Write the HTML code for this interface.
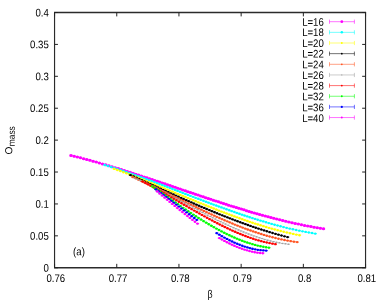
<!DOCTYPE html><html><head><meta charset="utf-8"><style>html,body{margin:0;padding:0;background:#fff}svg{display:block;will-change:transform}text{font-family:"Liberation Sans",sans-serif;fill:#000}</style></head><body>
<svg width="382" height="300" viewBox="0 0 382 300">
<rect width="382" height="300" fill="#fff"/>
<path d="M69.4,155.52h3.2M72.55,156.28h3.2M75.7,157.06h3.2M78.85,157.86h3.2M82,158.68h3.2M85.15,159.51h3.2M88.3,160.36h3.2M91.45,161.22h3.2M94.6,162.1h3.2M97.75,162.99h3.2M100.9,163.89h3.2M104.05,164.81h3.2M107.2,165.75h3.2M110.35,166.69h3.2M113.48,167.64h3.2M116.56,168.58h3.2M119.6,169.52h3.2M122.6,170.46h3.2M125.56,171.4h3.2M128.49,172.33h3.2M131.37,173.25h3.2M134.21,174.17h3.2M137.02,175.08h3.2M139.79,175.99h3.2M142.52,176.89h3.2M145.21,177.78h3.2M147.87,178.66h3.2M150.5,179.54h3.2M153.09,180.4h3.2M155.64,181.26h3.2M158.19,182.12h3.2M160.74,182.98h3.2M163.29,183.84h3.2M165.84,184.7h3.2M168.39,185.57h3.2M170.94,186.44h3.2M173.49,187.3h3.2M176.04,188.17h3.2M178.59,189.04h3.2M181.14,189.9h3.2M183.69,190.77h3.2M186.24,191.63h3.2M188.79,192.5h3.2M191.34,193.36h3.2M193.89,194.22h3.2M196.44,195.08h3.2M198.99,195.94h3.2M201.54,196.79h3.2M204.09,197.64h3.2M206.64,198.49h3.2M209.2,199.34h3.2M211.75,200.18h3.2M214.3,201.01h3.2M216.85,201.85h3.2M219.4,202.68h3.2M221.95,203.5h3.2M224.5,204.32h3.2M227.05,205.13h3.2M229.6,205.94h3.2M232.15,206.74h3.2M234.7,207.53h3.2M237.25,208.32h3.2M239.8,209.1h3.2M242.35,209.87h3.2M244.9,210.64h3.2M247.47,211.41h3.2M250.07,212.17h3.2M252.71,212.94h3.2M255.39,213.71h3.2M258.1,214.47h3.2M260.84,215.24h3.2M263.62,216.01h3.2M266.44,216.77h3.2M269.3,217.54h3.2M272.2,218.29h3.2M275.13,219.05h3.2M278.1,219.8h3.2M281.12,220.54h3.2M284.17,221.28h3.2M287.26,222.01h3.2M290.4,222.73h3.2M293.55,223.43h3.2M296.7,224.11h3.2M299.85,224.77h3.2M303,225.41h3.2M306.15,226.03h3.2M309.3,226.62h3.2M312.45,227.2h3.2M315.6,227.74h3.2M318.75,228.27h3.2M321.9,228.77h3.2" stroke="#ff00ff" stroke-width="2.0" stroke-opacity="0.8" fill="none"/>
<path d="M71,155.52h0M74.15,156.28h0M77.3,157.06h0M80.45,157.86h0M83.6,158.68h0M86.75,159.51h0M89.9,160.36h0M93.05,161.22h0M96.2,162.1h0M99.35,162.99h0M102.5,163.89h0M105.65,164.81h0M108.8,165.75h0M111.95,166.69h0M115.08,167.64h0M118.16,168.58h0M121.2,169.52h0M124.2,170.46h0M127.16,171.4h0M130.09,172.33h0M132.97,173.25h0M135.81,174.17h0M138.62,175.08h0M141.39,175.99h0M144.12,176.89h0M146.81,177.78h0M149.47,178.66h0M152.1,179.54h0M154.69,180.4h0M157.24,181.26h0M159.79,182.12h0M162.34,182.98h0M164.89,183.84h0M167.44,184.7h0M169.99,185.57h0M172.54,186.44h0M175.09,187.3h0M177.64,188.17h0M180.19,189.04h0M182.74,189.9h0M185.29,190.77h0M187.84,191.63h0M190.39,192.5h0M192.94,193.36h0M195.49,194.22h0M198.04,195.08h0M200.59,195.94h0M203.14,196.79h0M205.69,197.64h0M208.24,198.49h0M210.8,199.34h0M213.35,200.18h0M215.9,201.01h0M218.45,201.85h0M221,202.68h0M223.55,203.5h0M226.1,204.32h0M228.65,205.13h0M231.2,205.94h0M233.75,206.74h0M236.3,207.53h0M238.85,208.32h0M241.4,209.1h0M243.95,209.87h0M246.5,210.64h0M249.07,211.41h0M251.67,212.17h0M254.31,212.94h0M256.99,213.71h0M259.7,214.47h0M262.44,215.24h0M265.22,216.01h0M268.04,216.77h0M270.9,217.54h0M273.8,218.29h0M276.73,219.05h0M279.7,219.8h0M282.72,220.54h0M285.77,221.28h0M288.86,222.01h0M292,222.73h0M295.15,223.43h0M298.3,224.11h0M301.45,224.77h0M304.6,225.41h0M307.75,226.03h0M310.9,226.62h0M314.05,227.2h0M317.2,227.74h0M320.35,228.27h0M323.5,228.77h0" stroke="#ff00ff" stroke-width="3.0" stroke-linecap="round" fill="none"/>
<path d="M103.18,164.97h3.2M106.36,165.95h3.2M109.54,166.96h3.2M112.71,167.97h3.2M115.83,169h3.2M118.92,170.02h3.2M121.96,171.04h3.2M124.96,172.07h3.2M127.92,173.09h3.2M130.84,174.11h3.2M133.72,175.13h3.2M136.57,176.15h3.2M139.37,177.16h3.2M142.14,178.16h3.2M144.87,179.16h3.2M147.57,180.15h3.2M150.23,181.14h3.2M152.85,182.12h3.2M155.44,183.09h3.2M158.02,184.05h3.2M160.59,185.03h3.2M163.17,186h3.2M165.74,186.98h3.2M168.32,187.96h3.2M170.89,188.95h3.2M173.47,189.93h3.2M176.04,190.92h3.2M178.62,191.9h3.2M181.19,192.89h3.2M183.77,193.88h3.2M186.35,194.86h3.2M188.92,195.85h3.2M191.5,196.83h3.2M194.07,197.82h3.2M196.65,198.79h3.2M199.22,199.77h3.2M201.8,200.75h3.2M204.37,201.72h3.2M206.95,202.68h3.2M209.52,203.64h3.2M212.1,204.6h3.2M214.67,205.55h3.2M217.25,206.5h3.2M219.82,207.44h3.2M222.4,208.37h3.2M224.97,209.3h3.2M227.55,210.21h3.2M230.12,211.12h3.2M232.7,212.02h3.2M235.27,212.92h3.2M237.85,213.8h3.2M240.42,214.67h3.2M243,215.54h3.2M245.57,216.39h3.2M248.16,217.24h3.2M250.78,218.08h3.2M253.44,218.92h3.2M256.13,219.76h3.2M258.85,220.6h3.2M261.62,221.43h3.2M264.41,222.26h3.2M267.25,223.09h3.2M270.13,223.9h3.2M273.04,224.71h3.2M275.99,225.5h3.2M278.98,226.29h3.2M282.01,227.06h3.2M285.09,227.82h3.2M288.2,228.56h3.2M291.35,229.29h3.2M294.53,229.99h3.2M297.71,230.66h3.2M300.9,231.31h3.2M304.08,231.92h3.2M307.26,232.5h3.2M310.44,233.04h3.2M313.62,233.56h3.2" stroke="#00ffff" stroke-width="1.2" stroke-opacity="0.8" fill="none"/>
<path d="M104.78,164.97h0M107.96,165.95h0M111.14,166.96h0M114.31,167.97h0M117.43,169h0M120.52,170.02h0M123.56,171.04h0M126.56,172.07h0M129.52,173.09h0M132.44,174.11h0M135.32,175.13h0M138.17,176.15h0M140.97,177.16h0M143.74,178.16h0M146.47,179.16h0M149.17,180.15h0M151.83,181.14h0M154.45,182.12h0M157.04,183.09h0M159.62,184.05h0M162.19,185.03h0M164.77,186h0M167.34,186.98h0M169.92,187.96h0M172.49,188.95h0M175.07,189.93h0M177.64,190.92h0M180.22,191.9h0M182.79,192.89h0M185.37,193.88h0M187.95,194.86h0M190.52,195.85h0M193.1,196.83h0M195.67,197.82h0M198.25,198.79h0M200.82,199.77h0M203.4,200.75h0M205.97,201.72h0M208.55,202.68h0M211.12,203.64h0M213.7,204.6h0M216.27,205.55h0M218.85,206.5h0M221.42,207.44h0M224,208.37h0M226.57,209.3h0M229.15,210.21h0M231.72,211.12h0M234.3,212.02h0M236.87,212.92h0M239.45,213.8h0M242.02,214.67h0M244.6,215.54h0M247.17,216.39h0M249.76,217.24h0M252.38,218.08h0M255.04,218.92h0M257.73,219.76h0M260.45,220.6h0M263.22,221.43h0M266.01,222.26h0M268.85,223.09h0M271.73,223.9h0M274.64,224.71h0M277.59,225.5h0M280.58,226.29h0M283.61,227.06h0M286.69,227.82h0M289.8,228.56h0M292.95,229.29h0M296.13,229.99h0M299.31,230.66h0M302.5,231.31h0M305.68,231.92h0M308.86,232.5h0M312.04,233.04h0M315.22,233.56h0" stroke="#00ffff" stroke-width="2.36" stroke-linecap="round" fill="none"/>
<path d="M112.58,168.9h3.2M115.71,170.01h3.2M118.8,171.12h3.2M121.85,172.24h3.2M124.85,173.35h3.2M127.82,174.47h3.2M130.75,175.58h3.2M133.64,176.69h3.2M136.49,177.79h3.2M139.3,178.89h3.2M142.07,179.99h3.2M144.81,181.07h3.2M147.51,182.15h3.2M150.17,183.23h3.2M152.8,184.29h3.2M155.4,185.34h3.2M157.98,186.39h3.2M160.56,187.45h3.2M163.14,188.51h3.2M165.72,189.57h3.2M168.3,190.63h3.2M170.88,191.7h3.2M173.46,192.76h3.2M176.04,193.83h3.2M178.62,194.9h3.2M181.2,195.96h3.2M183.78,197.03h3.2M186.36,198.09h3.2M188.94,199.16h3.2M191.52,200.22h3.2M194.1,201.27h3.2M196.68,202.33h3.2M199.26,203.37h3.2M201.84,204.42h3.2M204.42,205.46h3.2M207,206.49h3.2M209.57,207.52h3.2M212.15,208.54h3.2M214.73,209.55h3.2M217.31,210.56h3.2M219.89,211.56h3.2M222.47,212.54h3.2M225.05,213.52h3.2M227.63,214.49h3.2M230.21,215.45h3.2M232.79,216.4h3.2M235.37,217.34h3.2M237.95,218.26h3.2M240.53,219.18h3.2M243.11,220.08h3.2M245.69,220.96h3.2M248.28,221.84h3.2M250.91,222.71h3.2M253.57,223.58h3.2M256.26,224.45h3.2M258.99,225.3h3.2M261.76,226.15h3.2M264.56,226.99h3.2M267.41,227.82h3.2M270.29,228.64h3.2M273.2,229.45h3.2M276.16,230.24h3.2M279.16,231.01h3.2M282.19,231.77h3.2M285.27,232.51h3.2M288.39,233.22h3.2M291.55,233.91h3.2M294.73,234.57h3.2M297.92,235.2h3.2" stroke="#ffff00" stroke-width="1.2" stroke-opacity="0.8" fill="none"/>
<path d="M114.18,168.9h0M117.31,170.01h0M120.4,171.12h0M123.45,172.24h0M126.45,173.35h0M129.42,174.47h0M132.35,175.58h0M135.24,176.69h0M138.09,177.79h0M140.9,178.89h0M143.67,179.99h0M146.41,181.07h0M149.11,182.15h0M151.77,183.23h0M154.4,184.29h0M157,185.34h0M159.58,186.39h0M162.16,187.45h0M164.74,188.51h0M167.32,189.57h0M169.9,190.63h0M172.48,191.7h0M175.06,192.76h0M177.64,193.83h0M180.22,194.9h0M182.8,195.96h0M185.38,197.03h0M187.96,198.09h0M190.54,199.16h0M193.12,200.22h0M195.7,201.27h0M198.28,202.33h0M200.86,203.37h0M203.44,204.42h0M206.02,205.46h0M208.6,206.49h0M211.17,207.52h0M213.75,208.54h0M216.33,209.55h0M218.91,210.56h0M221.49,211.56h0M224.07,212.54h0M226.65,213.52h0M229.23,214.49h0M231.81,215.45h0M234.39,216.4h0M236.97,217.34h0M239.55,218.26h0M242.13,219.18h0M244.71,220.08h0M247.29,220.96h0M249.88,221.84h0M252.51,222.71h0M255.17,223.58h0M257.86,224.45h0M260.59,225.3h0M263.36,226.15h0M266.16,226.99h0M269.01,227.82h0M271.89,228.64h0M274.8,229.45h0M277.76,230.24h0M280.76,231.01h0M283.79,231.77h0M286.87,232.51h0M289.99,233.22h0M293.15,233.91h0M296.33,234.57h0M299.52,235.2h0" stroke="#ffff00" stroke-width="2.36" stroke-linecap="round" fill="none"/>
<path d="M128.88,175.11h3.2M131.78,176.42h3.2M134.65,177.71h3.2M137.48,178.99h3.2M140.26,180.25h3.2M143.02,181.5h3.2M145.73,182.73h3.2M148.41,183.95h3.2M151.05,185.15h3.2M153.66,186.33h3.2M156.24,187.5h3.2M158.81,188.67h3.2M161.38,189.83h3.2M163.96,190.99h3.2M166.53,192.15h3.2M169.1,193.31h3.2M171.68,194.46h3.2M174.25,195.61h3.2M176.83,196.76h3.2M179.4,197.9h3.2M181.97,199.04h3.2M184.55,200.17h3.2M187.12,201.3h3.2M189.69,202.42h3.2M192.27,203.54h3.2M194.84,204.65h3.2M197.41,205.76h3.2M199.99,206.85h3.2M202.56,207.94h3.2M205.14,209.03h3.2M207.71,210.1h3.2M210.28,211.17h3.2M212.86,212.22h3.2M215.43,213.27h3.2M218,214.31h3.2M220.58,215.34h3.2M223.15,216.36h3.2M225.73,217.37h3.2M228.3,218.36h3.2M230.87,219.35h3.2M233.45,220.32h3.2M236.02,221.29h3.2M238.59,222.24h3.2M241.17,223.17h3.2M243.74,224.1h3.2M246.32,225.01h3.2M248.91,225.91h3.2M251.55,226.82h3.2M254.21,227.72h3.2M256.92,228.61h3.2M259.66,229.5h3.2M262.43,230.39h3.2M265.25,231.26h3.2M268.1,232.13h3.2M270.99,232.99h3.2M273.92,233.84h3.2M276.88,234.68h3.2M279.89,235.5h3.2M282.93,236.31h3.2M286.02,237.1h3.2" stroke="#000000" stroke-width="1.2" stroke-opacity="0.8" fill="none"/>
<path d="M130.48,175.11h0M133.38,176.42h0M136.25,177.71h0M139.08,178.99h0M141.86,180.25h0M144.62,181.5h0M147.33,182.73h0M150.01,183.95h0M152.65,185.15h0M155.26,186.33h0M157.84,187.5h0M160.41,188.67h0M162.98,189.83h0M165.56,190.99h0M168.13,192.15h0M170.7,193.31h0M173.28,194.46h0M175.85,195.61h0M178.43,196.76h0M181,197.9h0M183.57,199.04h0M186.15,200.17h0M188.72,201.3h0M191.29,202.42h0M193.87,203.54h0M196.44,204.65h0M199.01,205.76h0M201.59,206.85h0M204.16,207.94h0M206.74,209.03h0M209.31,210.1h0M211.88,211.17h0M214.46,212.22h0M217.03,213.27h0M219.6,214.31h0M222.18,215.34h0M224.75,216.36h0M227.33,217.37h0M229.9,218.36h0M232.47,219.35h0M235.05,220.32h0M237.62,221.29h0M240.19,222.24h0M242.77,223.17h0M245.34,224.1h0M247.92,225.01h0M250.51,225.91h0M253.15,226.82h0M255.81,227.72h0M258.52,228.61h0M261.26,229.5h0M264.03,230.39h0M266.85,231.26h0M269.7,232.13h0M272.59,232.99h0M275.52,233.84h0M278.48,234.68h0M281.49,235.5h0M284.53,236.31h0M287.62,237.1h0" stroke="#000000" stroke-width="2.36" stroke-linecap="round" fill="none"/>
<path d="M131.18,177.09h3.2M134.06,178.37h3.2M136.91,179.64h3.2M139.72,180.92h3.2M142.49,182.19h3.2M145.22,183.45h3.2M147.92,184.71h3.2M150.58,185.96h3.2M153.21,187.21h3.2M155.8,188.44h3.2M158.38,189.68h3.2M160.97,190.93h3.2M163.55,192.18h3.2M166.14,193.43h3.2M168.72,194.68h3.2M171.31,195.94h3.2M173.89,197.2h3.2M176.48,198.46h3.2M179.06,199.72h3.2M181.64,200.98h3.2M184.23,202.24h3.2M186.81,203.49h3.2M189.4,204.74h3.2M191.98,205.98h3.2M194.57,207.22h3.2M197.15,208.46h3.2M199.74,209.68h3.2M202.32,210.9h3.2M204.9,212.11h3.2M207.49,213.31h3.2M210.07,214.5h3.2M212.66,215.67h3.2M215.24,216.84h3.2M217.83,217.99h3.2M220.41,219.13h3.2M223,220.25h3.2M225.58,221.35h3.2M228.16,222.44h3.2M230.75,223.51h3.2M233.33,224.57h3.2M235.92,225.6h3.2M238.5,226.62h3.2M241.09,227.61h3.2M243.67,228.58h3.2M246.26,229.53h3.2M248.86,230.46h3.2M251.5,231.38h3.2M254.17,232.28h3.2M256.88,233.17h3.2M259.62,234.04h3.2M262.4,234.88h3.2M265.22,235.71h3.2M268.07,236.51h3.2M270.97,237.28h3.2M273.9,238.02h3.2M276.87,238.73h3.2M279.88,239.4h3.2M282.93,240.03h3.2M286.02,240.62h3.2M289.15,241.17h3.2M292.33,241.66h3.2M295.52,242.1h3.2" stroke="#ff5523" stroke-width="1.2" stroke-opacity="0.8" fill="none"/>
<path d="M132.78,177.09h0M135.66,178.37h0M138.51,179.64h0M141.32,180.92h0M144.09,182.19h0M146.82,183.45h0M149.52,184.71h0M152.18,185.96h0M154.81,187.21h0M157.4,188.44h0M159.98,189.68h0M162.57,190.93h0M165.15,192.18h0M167.74,193.43h0M170.32,194.68h0M172.91,195.94h0M175.49,197.2h0M178.08,198.46h0M180.66,199.72h0M183.24,200.98h0M185.83,202.24h0M188.41,203.49h0M191,204.74h0M193.58,205.98h0M196.17,207.22h0M198.75,208.46h0M201.34,209.68h0M203.92,210.9h0M206.5,212.11h0M209.09,213.31h0M211.67,214.5h0M214.26,215.67h0M216.84,216.84h0M219.43,217.99h0M222.01,219.13h0M224.6,220.25h0M227.18,221.35h0M229.76,222.44h0M232.35,223.51h0M234.93,224.57h0M237.52,225.6h0M240.1,226.62h0M242.69,227.61h0M245.27,228.58h0M247.86,229.53h0M250.46,230.46h0M253.1,231.38h0M255.77,232.28h0M258.48,233.17h0M261.22,234.04h0M264,234.88h0M266.82,235.71h0M269.67,236.51h0M272.57,237.28h0M275.5,238.02h0M278.47,238.73h0M281.48,239.4h0M284.53,240.03h0M287.62,240.62h0M290.75,241.17h0M293.93,241.66h0M297.12,242.1h0" stroke="#ff5523" stroke-width="2.36" stroke-linecap="round" fill="none"/>
<path d="M133.15,178.13h3.2M135.98,179.36h3.2M138.78,180.6h3.2M141.54,181.86h3.2M144.26,183.12h3.2M146.95,184.39h3.2M149.6,185.67h3.2M152.21,186.95h3.2M154.79,188.23h3.2M157.35,189.51h3.2M159.92,190.81h3.2M162.48,192.13h3.2M165.04,193.46h3.2M167.61,194.79h3.2M170.17,196.14h3.2M172.73,197.49h3.2M175.29,198.85h3.2M177.86,200.22h3.2M180.42,201.59h3.2M182.98,202.96h3.2M185.54,204.33h3.2M188.11,205.71h3.2M190.67,207.08h3.2M193.23,208.44h3.2M195.8,209.81h3.2M198.36,211.16h3.2M200.92,212.51h3.2M203.48,213.85h3.2M206.05,215.19h3.2M208.61,216.51h3.2M211.17,217.81h3.2M213.73,219.11h3.2M216.3,220.38h3.2M218.86,221.64h3.2M221.42,222.89h3.2M223.99,224.11h3.2M226.55,225.31h3.2M229.11,226.49h3.2M231.67,227.65h3.2M234.24,228.78h3.2M236.8,229.89h3.2M239.36,230.96h3.2M241.92,232.01h3.2M244.49,233.03h3.2M247.06,234.02h3.2M249.66,234.99h3.2M252.3,235.93h3.2M254.97,236.85h3.2M257.68,237.74h3.2M260.43,238.6h3.2M263.21,239.42h3.2M266.03,240.2h3.2M268.89,240.94h3.2M271.78,241.63h3.2M274.72,242.27h3.2M277.69,242.85h3.2M280.7,243.38h3.2M283.76,243.84h3.2M286.85,244.23h3.2" stroke="#a0a0a0" stroke-width="0.9" stroke-opacity="0.8" fill="none"/>
<path d="M134.75,178.13h0M137.58,179.36h0M140.38,180.6h0M143.14,181.86h0M145.86,183.12h0M148.55,184.39h0M151.2,185.67h0M153.81,186.95h0M156.39,188.23h0M158.95,189.51h0M161.52,190.81h0M164.08,192.13h0M166.64,193.46h0M169.21,194.79h0M171.77,196.14h0M174.33,197.49h0M176.89,198.85h0M179.46,200.22h0M182.02,201.59h0M184.58,202.96h0M187.14,204.33h0M189.71,205.71h0M192.27,207.08h0M194.83,208.44h0M197.4,209.81h0M199.96,211.16h0M202.52,212.51h0M205.08,213.85h0M207.65,215.19h0M210.21,216.51h0M212.77,217.81h0M215.33,219.11h0M217.9,220.38h0M220.46,221.64h0M223.02,222.89h0M225.59,224.11h0M228.15,225.31h0M230.71,226.49h0M233.27,227.65h0M235.84,228.78h0M238.4,229.89h0M240.96,230.96h0M243.52,232.01h0M246.09,233.03h0M248.66,234.02h0M251.26,234.99h0M253.9,235.93h0M256.57,236.85h0M259.28,237.74h0M262.03,238.6h0M264.81,239.42h0M267.63,240.2h0M270.49,240.94h0M273.38,241.63h0M276.32,242.27h0M279.29,242.85h0M282.3,243.38h0M285.36,243.84h0M288.45,244.23h0" stroke="#a0a0a0" stroke-width="1.5" stroke-linecap="round" fill="none"/>
<path d="M141.08,181.61h3.2M143.8,183.01h3.2M146.48,184.41h3.2M149.13,185.82h3.2M151.74,187.24h3.2M154.32,188.65h3.2M156.87,190.06h3.2M159.43,191.49h3.2M161.98,192.93h3.2M164.54,194.38h3.2M167.09,195.84h3.2M169.65,197.31h3.2M172.2,198.78h3.2M174.76,200.26h3.2M177.31,201.74h3.2M179.87,203.22h3.2M182.42,204.71h3.2M184.98,206.19h3.2M187.53,207.66h3.2M190.09,209.13h3.2M192.64,210.6h3.2M195.2,212.05h3.2M197.75,213.5h3.2M200.31,214.93h3.2M202.86,216.35h3.2M205.42,217.76h3.2M207.97,219.15h3.2M210.53,220.52h3.2M213.08,221.87h3.2M215.64,223.2h3.2M218.19,224.51h3.2M220.75,225.79h3.2M223.3,227.05h3.2M225.86,228.28h3.2M228.41,229.48h3.2M230.97,230.65h3.2M233.52,231.78h3.2M236.08,232.88h3.2M238.63,233.95h3.2M241.19,234.98h3.2M243.74,235.97h3.2M246.3,236.92h3.2M248.89,237.84h3.2M251.52,238.72h3.2M254.18,239.57h3.2M256.87,240.38h3.2M259.6,241.14h3.2M262.37,241.85h3.2M265.18,242.52h3.2M268.02,243.12h3.2M270.9,243.66h3.2M273.82,244.13h3.2" stroke="#ff0000" stroke-width="1.2" stroke-opacity="0.8" fill="none"/>
<path d="M142.68,181.61h0M145.4,183.01h0M148.08,184.41h0M150.73,185.82h0M153.34,187.24h0M155.92,188.65h0M158.47,190.06h0M161.03,191.49h0M163.58,192.93h0M166.14,194.38h0M168.69,195.84h0M171.25,197.31h0M173.8,198.78h0M176.36,200.26h0M178.91,201.74h0M181.47,203.22h0M184.02,204.71h0M186.58,206.19h0M189.13,207.66h0M191.69,209.13h0M194.24,210.6h0M196.8,212.05h0M199.35,213.5h0M201.91,214.93h0M204.46,216.35h0M207.02,217.76h0M209.57,219.15h0M212.13,220.52h0M214.68,221.87h0M217.24,223.2h0M219.79,224.51h0M222.35,225.79h0M224.9,227.05h0M227.46,228.28h0M230.01,229.48h0M232.57,230.65h0M235.12,231.78h0M237.68,232.88h0M240.23,233.95h0M242.79,234.98h0M245.34,235.97h0M247.9,236.92h0M250.49,237.84h0M253.12,238.72h0M255.78,239.57h0M258.47,240.38h0M261.2,241.14h0M263.97,241.85h0M266.78,242.52h0M269.62,243.12h0M272.5,243.66h0M275.42,244.13h0" stroke="#ff0000" stroke-width="2.36" stroke-linecap="round" fill="none"/>
<path d="M150.68,186.4h3.2M153.28,188.21h3.2M155.85,190h3.2M158.41,191.8h3.2M160.98,193.59h3.2M163.54,195.39h3.2M166.11,197.18h3.2M168.67,198.97h3.2M171.24,200.76h3.2M173.8,202.53h3.2M176.37,204.3h3.2M178.93,206.06h3.2M181.5,207.81h3.2M184.06,209.54h3.2M186.63,211.26h3.2M189.2,212.95h3.2M191.76,214.63h3.2M194.33,216.29h3.2M196.89,217.93h3.2M199.46,219.54h3.2M202.02,221.13h3.2M204.59,222.69h3.2M207.15,224.22h3.2M209.72,225.72h3.2M212.28,227.19h3.2M214.85,228.62h3.2M217.41,230.02h3.2M219.98,231.38h3.2M222.54,232.7h3.2M225.11,233.98h3.2M227.67,235.22h3.2M230.24,236.41h3.2M232.8,237.55h3.2M235.37,238.65h3.2M237.93,239.7h3.2M240.5,240.7h3.2M243.06,241.64h3.2M245.63,242.53h3.2M248.22,243.37h3.2M250.84,244.16h3.2M253.49,244.9h3.2M256.19,245.58h3.2M258.91,246.2h3.2M261.68,246.76h3.2M264.48,247.24h3.2M267.32,247.64h3.2" stroke="#00ff00" stroke-width="1.2" stroke-opacity="0.8" fill="none"/>
<path d="M152.28,186.4h0M154.88,188.21h0M157.45,190h0M160.01,191.8h0M162.58,193.59h0M165.14,195.39h0M167.71,197.18h0M170.27,198.97h0M172.84,200.76h0M175.4,202.53h0M177.97,204.3h0M180.53,206.06h0M183.1,207.81h0M185.66,209.54h0M188.23,211.26h0M190.8,212.95h0M193.36,214.63h0M195.93,216.29h0M198.49,217.93h0M201.06,219.54h0M203.62,221.13h0M206.19,222.69h0M208.75,224.22h0M211.32,225.72h0M213.88,227.19h0M216.45,228.62h0M219.01,230.02h0M221.58,231.38h0M224.14,232.7h0M226.71,233.98h0M229.27,235.22h0M231.84,236.41h0M234.4,237.55h0M236.97,238.65h0M239.53,239.7h0M242.1,240.7h0M244.66,241.64h0M247.23,242.53h0M249.82,243.37h0M252.44,244.16h0M255.09,244.9h0M257.79,245.58h0M260.51,246.2h0M263.28,246.76h0M266.08,247.24h0M268.92,247.64h0" stroke="#00ff00" stroke-width="2.36" stroke-linecap="round" fill="none"/>
<path d="M154.28,189.38h3.2M156.84,191.24h3.2M159.4,193.12h3.2M161.96,195.02h3.2M164.52,196.93h3.2M167.07,198.85h3.2M169.63,200.78h3.2M172.19,202.71h3.2M174.75,204.65h3.2M177.31,206.59h3.2M179.87,208.52h3.2M182.43,210.44h3.2M184.98,212.36h3.2M187.54,214.26h3.2M190.1,216.15h3.2M192.66,218.01h3.2M195.22,219.86h3.2M215.18,233.17h3.2M217.73,234.69h3.2M220.27,236.16h3.2M222.82,237.57h3.2M225.37,238.93h3.2M227.91,240.23h3.2M230.46,241.46h3.2M233,242.63h3.2M235.55,243.74h3.2M238.1,244.77h3.2M240.64,245.73h3.2M243.19,246.61h3.2M245.74,247.41h3.2M248.31,248.14h3.2M250.93,248.79h3.2M253.57,249.35h3.2M256.26,249.82h3.2M258.97,250.18h3.2M261.73,250.44h3.2M264.52,250.58h3.2" stroke="#0000ff" stroke-width="1.2" stroke-opacity="0.8" fill="none"/>
<path d="M155.88,189.38h0M158.44,191.24h0M161,193.12h0M163.56,195.02h0M166.12,196.93h0M168.67,198.85h0M171.23,200.78h0M173.79,202.71h0M176.35,204.65h0M178.91,206.59h0M181.47,208.52h0M184.03,210.44h0M186.58,212.36h0M189.14,214.26h0M191.7,216.15h0M194.26,218.01h0M196.82,219.86h0M216.78,233.17h0M219.33,234.69h0M221.87,236.16h0M224.42,237.57h0M226.97,238.93h0M229.51,240.23h0M232.06,241.46h0M234.6,242.63h0M237.15,243.74h0M239.7,244.77h0M242.24,245.73h0M244.79,246.61h0M247.34,247.41h0M249.91,248.14h0M252.53,248.79h0M255.17,249.35h0M257.86,249.82h0M260.57,250.18h0M263.33,250.44h0M266.12,250.58h0" stroke="#0000ff" stroke-width="2.36" stroke-linecap="round" fill="none"/>
<path d="M155.58,191.47h3.2M158.1,193.54h3.2M160.62,195.61h3.2M163.14,197.68h3.2M165.66,199.75h3.2M168.19,201.82h3.2M170.71,203.88h3.2M173.23,205.93h3.2M175.75,207.97h3.2M178.27,210h3.2M180.79,212.01h3.2M183.31,214h3.2M185.84,215.97h3.2M188.36,217.91h3.2M190.88,219.84h3.2M193.4,221.73h3.2M195.92,223.59h3.2M217.78,238.08h3.2M220.29,239.52h3.2M222.81,240.89h3.2M225.32,242.21h3.2M227.83,243.47h3.2M230.35,244.67h3.2M232.86,245.8h3.2M235.37,246.86h3.2M237.89,247.85h3.2M240.4,248.76h3.2M242.92,249.6h3.2M245.43,250.37h3.2M247.97,251.06h3.2M250.55,251.67h3.2M253.17,252.2h3.2M255.82,252.64h3.2M258.5,252.98h3.2M261.22,253.22h3.2" stroke="#ff00ff" stroke-width="1.2" stroke-opacity="0.8" fill="none"/>
<path d="M157.18,191.47h0M159.7,193.54h0M162.22,195.61h0M164.74,197.68h0M167.26,199.75h0M169.79,201.82h0M172.31,203.88h0M174.83,205.93h0M177.35,207.97h0M179.87,210h0M182.39,212.01h0M184.91,214h0M187.44,215.97h0M189.96,217.91h0M192.48,219.84h0M195,221.73h0M197.52,223.59h0M219.38,238.08h0M221.89,239.52h0M224.41,240.89h0M226.92,242.21h0M229.43,243.47h0M231.95,244.67h0M234.46,245.8h0M236.97,246.86h0M239.49,247.85h0M242,248.76h0M244.52,249.6h0M247.03,250.37h0M249.57,251.06h0M252.15,251.67h0M254.77,252.2h0M257.42,252.64h0M260.1,252.98h0M262.82,253.22h0" stroke="#ff00ff" stroke-width="2.36" stroke-linecap="round" fill="none"/>
<path d="M54.0,12.5H366.1M54.0,267.75H366.1" stroke="#2b2b2b" stroke-width="1.3" fill="none"/>
<path d="M54.55,12.5V267.75M365.55,12.5V267.75" stroke="#2b2b2b" stroke-width="1.15" fill="none"/>
<path d="M54.55,267.75v-3.9M54.55,12.5v3.9M116.75,267.75v-3.9M116.75,12.5v3.9M178.95,267.75v-3.9M178.95,12.5v3.9M241.15,267.75v-3.9M241.15,12.5v3.9M303.35,267.75v-3.9M303.35,12.5v3.9M365.55,267.75v-3.9M365.55,12.5v3.9M54.55,267.75h3.4M365.55,267.75h-3.4M54.55,235.84h3.4M365.55,235.84h-3.4M54.55,203.94h3.4M365.55,203.94h-3.4M54.55,172.03h3.4M365.55,172.03h-3.4M54.55,140.12h3.4M365.55,140.12h-3.4M54.55,108.22h3.4M365.55,108.22h-3.4M54.55,76.31h3.4M365.55,76.31h-3.4M54.55,44.41h3.4M365.55,44.41h-3.4M54.55,12.5h3.4M365.55,12.5h-3.4" stroke="#222" stroke-width="1" fill="none"/>
<text transform="translate(48.8,271.65) rotate(0.05) scale(0.875,1)" font-size="11" text-anchor="end">0</text>
<text transform="translate(48.8,239.74) rotate(0.05) scale(0.875,1)" font-size="11" text-anchor="end">0.05</text>
<text transform="translate(48.8,207.84) rotate(0.05) scale(0.875,1)" font-size="11" text-anchor="end">0.1</text>
<text transform="translate(48.8,175.93) rotate(0.05) scale(0.875,1)" font-size="11" text-anchor="end">0.15</text>
<text transform="translate(48.8,144.03) rotate(0.05) scale(0.875,1)" font-size="11" text-anchor="end">0.2</text>
<text transform="translate(48.8,112.12) rotate(0.05) scale(0.875,1)" font-size="11" text-anchor="end">0.25</text>
<text transform="translate(48.8,80.21) rotate(0.05) scale(0.875,1)" font-size="11" text-anchor="end">0.3</text>
<text transform="translate(48.8,48.31) rotate(0.05) scale(0.875,1)" font-size="11" text-anchor="end">0.35</text>
<text transform="translate(48.8,16.4) rotate(0.05) scale(0.875,1)" font-size="11" text-anchor="end">0.4</text>
<text transform="translate(55.85,282.1) rotate(0.05) scale(0.875,1)" font-size="11" text-anchor="middle">0.76</text>
<text transform="translate(118.05,282.1) rotate(0.05) scale(0.875,1)" font-size="11" text-anchor="middle">0.77</text>
<text transform="translate(180.25,282.1) rotate(0.05) scale(0.875,1)" font-size="11" text-anchor="middle">0.78</text>
<text transform="translate(242.45,282.1) rotate(0.05) scale(0.875,1)" font-size="11" text-anchor="middle">0.79</text>
<text transform="translate(304.65,282.1) rotate(0.05) scale(0.875,1)" font-size="11" text-anchor="middle">0.8</text>
<text transform="translate(366.85,282.1) rotate(0.05) scale(0.875,1)" font-size="11" text-anchor="middle">0.81</text>
<text transform="translate(210,297.8) rotate(0.05) scale(0.8,1)" font-size="11" text-anchor="middle">β</text>
<g transform="translate(12.3,154.5) rotate(-90.05)"><text x="0" y="0" font-size="10.2">O</text><text transform="translate(8.3,2.4) scale(0.9,1)" font-size="9.3">mass</text></g>
<text transform="translate(73.1,255.3) rotate(0.05) scale(0.875,1)" font-size="11" text-anchor="start">(a)</text>
<text transform="translate(323.8,25.75) rotate(0.05) scale(0.875,1)" font-size="11" text-anchor="end">L=16</text>
<path d="M329.5,21.7H354.4M329.5,19.6v4.2M354.4,19.6v4.2" stroke="#ff00ff" stroke-width="1" stroke-opacity="0.55" fill="none"/>
<circle cx="341.8" cy="21.7" r="1.4" fill="#ff00ff"/>
<text transform="translate(323.8,35.95) rotate(0.05) scale(0.875,1)" font-size="11" text-anchor="end">L=18</text>
<path d="M329.5,32.35H354.4M329.5,30.25v4.2M354.4,30.25v4.2" stroke="#00ffff" stroke-width="1" stroke-opacity="0.55" fill="none"/>
<circle cx="341.8" cy="32.35" r="1.25" fill="#00ffff"/>
<text transform="translate(323.8,46.95) rotate(0.05) scale(0.875,1)" font-size="11" text-anchor="end">L=20</text>
<path d="M329.5,43H354.4M329.5,40.9v4.2M354.4,40.9v4.2" stroke="#ffff00" stroke-width="1" stroke-opacity="0.55" fill="none"/>
<circle cx="341.8" cy="43" r="0.95" fill="#ffff00"/>
<text transform="translate(323.8,57.55) rotate(0.05) scale(0.875,1)" font-size="11" text-anchor="end">L=22</text>
<path d="M329.5,53.65H354.4M329.5,51.55v4.2M354.4,51.55v4.2" stroke="#000000" stroke-width="1" stroke-opacity="0.55" fill="none"/>
<circle cx="341.8" cy="53.65" r="0.9" fill="#000000"/>
<text transform="translate(323.8,68.15) rotate(0.05) scale(0.875,1)" font-size="11" text-anchor="end">L=24</text>
<path d="M329.5,64.3H354.4M329.5,62.2v4.2M354.4,62.2v4.2" stroke="#ff5523" stroke-width="1" stroke-opacity="0.55" fill="none"/>
<circle cx="341.8" cy="64.3" r="0.9" fill="#ff5523"/>
<text transform="translate(323.8,78.95) rotate(0.05) scale(0.875,1)" font-size="11" text-anchor="end">L=26</text>
<path d="M329.5,74.95H354.4M329.5,72.85v4.2M354.4,72.85v4.2" stroke="#a0a0a0" stroke-width="1" stroke-opacity="0.55" fill="none"/>
<circle cx="341.8" cy="74.95" r="0.6" fill="#a0a0a0"/>
<text transform="translate(323.8,89.55) rotate(0.05) scale(0.875,1)" font-size="11" text-anchor="end">L=28</text>
<path d="M329.5,85.6H354.4M329.5,83.5v4.2M354.4,83.5v4.2" stroke="#ff0000" stroke-width="1" stroke-opacity="0.55" fill="none"/>
<circle cx="341.8" cy="85.6" r="0.95" fill="#ff0000"/>
<text transform="translate(323.8,100.35) rotate(0.05) scale(0.875,1)" font-size="11" text-anchor="end">L=32</text>
<path d="M329.5,96.25H354.4M329.5,94.15v4.2M354.4,94.15v4.2" stroke="#00ff00" stroke-width="1" stroke-opacity="0.55" fill="none"/>
<circle cx="341.8" cy="96.25" r="0.95" fill="#00ff00"/>
<text transform="translate(323.8,111.15) rotate(0.05) scale(0.875,1)" font-size="11" text-anchor="end">L=36</text>
<path d="M329.5,106.9H354.4M329.5,104.8v4.2M354.4,104.8v4.2" stroke="#0000ff" stroke-width="1" stroke-opacity="0.55" fill="none"/>
<circle cx="341.8" cy="106.9" r="1.1" fill="#0000ff"/>
<text transform="translate(323.8,121.95) rotate(0.05) scale(0.875,1)" font-size="11" text-anchor="end">L=40</text>
<path d="M329.5,117.55H354.4M329.5,115.45v4.2M354.4,115.45v4.2" stroke="#ff00ff" stroke-width="1" stroke-opacity="0.55" fill="none"/>
<circle cx="341.8" cy="117.55" r="0.95" fill="#ff00ff"/>
</svg></body></html>
